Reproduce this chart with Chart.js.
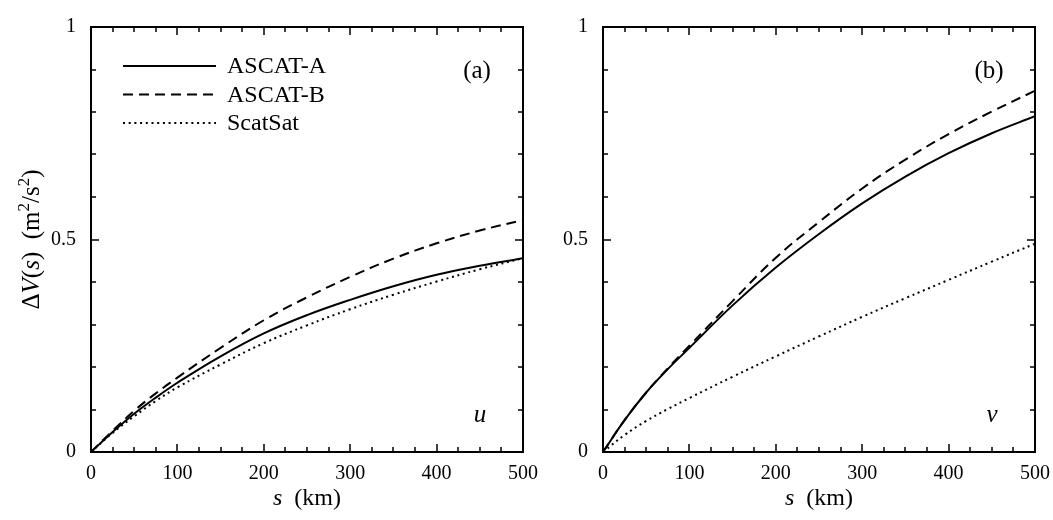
<!DOCTYPE html>
<html>
<head>
<meta charset="utf-8">
<script src="https://cdn.jsdelivr.net/npm/chart.js@4.4.1/dist/chart.umd.min.js"></script>
<style>
    body { margin: 0; background: #fff; }
    #wrap { position: relative; width: 1053px; height: 520px; overflow: hidden; }
    canvas { position: absolute; top: 0; }
</style>
</head>
<body>
<div id="wrap">
    <canvas id="chartU" width="560" height="520" style="left:0px"></canvas>
    <canvas id="chartV" width="540" height="520" style="left:560px"></canvas>
</div>
<script>
// separation s (km)
const sepKm = [0, 25, 50, 75, 100, 150, 200, 250, 300, 350, 400, 450, 500];
const seriesNames = ['ASCAT-A', 'ASCAT-B', 'ScatSat'];

// u component
const uAscatA = [0, 0.047, 0.090, 0.128, 0.163, 0.225, 0.279, 0.322, 0.358, 0.390, 0.417, 0.438, 0.456];
const uAscatB = [0, 0.050, 0.097, 0.138, 0.175, 0.245, 0.310, 0.364, 0.412, 0.455, 0.491, 0.521, 0.546];
const uScatSat = [0, 0.045, 0.084, 0.120, 0.152, 0.206, 0.256, 0.298, 0.336, 0.370, 0.401, 0.430, 0.456];

// v component
const vAscatA = [0, 0.075, 0.140, 0.195, 0.245, 0.345, 0.434, 0.513, 0.585, 0.648, 0.703, 0.750, 0.790];
const vAscatB = [0, 0.075, 0.140, 0.197, 0.250, 0.355, 0.457, 0.541, 0.620, 0.688, 0.748, 0.801, 0.850];
const vScatSat = [0, 0.040, 0.073, 0.101, 0.127, 0.177, 0.225, 0.272, 0.318, 0.362, 0.405, 0.448, 0.490];

const xTickStep = 100, xMinorStep = 25;
const yTickStep = 0.5, yMinorStep = 0.1;

const SERIF = '"Liberation Serif", "DejaVu Serif", serif';
const lineStyles = [[], [10, 6], [2, 3.7]];

function font(size, italic) {
    return (italic ? 'italic ' : '') + size + 'px ' + SERIF;
}

// draws a list of text runs (plain / italic / superscript) centred on x,y
function drawRuns(ctx, runs, x, y, size) {
    let total = 0;
    runs.forEach(r => {
        ctx.font = font(r.sup ? size * 0.68 : size, r.it);
        r.w = ctx.measureText(r.t).width;
        total += r.w;
    });
    let cx = x - total / 2;
    ctx.textAlign = 'left';
    ctx.textBaseline = 'alphabetic';
    runs.forEach(r => {
        ctx.font = font(r.sup ? size * 0.68 : size, r.it);
        ctx.fillText(r.t, cx, r.sup ? y - size * 0.42 : y);
        cx += r.w;
    });
}

const frameTicks = {
    id: 'frameTicks',
    afterDatasetsDraw(chart) {
        const {ctx, chartArea: a, scales: {x, y}} = chart;
        ctx.save();
        ctx.strokeStyle = '#000';
        ctx.lineWidth = 2;
        ctx.strokeRect(a.left, a.top, a.right - a.left, a.bottom - a.top);
        ctx.lineWidth = 1.5;
        ctx.beginPath();
        for (let s = 0; s <= x.max + 0.01; s += xMinorStep) {
            const px = Math.round(x.getPixelForValue(s));
            const len = Math.abs(s % xTickStep) < 0.01 ? 8 : 5;
            ctx.moveTo(px, a.bottom); ctx.lineTo(px, a.bottom - len);
            ctx.moveTo(px, a.top); ctx.lineTo(px, a.top + len);
        }
        for (let i = 0; i * yMinorStep <= y.max + 1e-6; i++) {
            const v = i * yMinorStep;
            const py = Math.round(y.getPixelForValue(v));
            const len = Math.abs(v / yTickStep - Math.round(v / yTickStep)) < 1e-6 ? 8 : 5;
            ctx.moveTo(a.left, py); ctx.lineTo(a.left + len, py);
            ctx.moveTo(a.right, py); ctx.lineTo(a.right - len, py);
        }
        ctx.stroke();
        ctx.restore();
    }
};

const panelText = {
    id: 'panelText',
    afterDraw(chart, args, opts) {
        const {ctx, chartArea: a} = chart;
        ctx.save();
        ctx.fillStyle = '#000';
        // panel tag and component
        ctx.font = font(25, false);
        ctx.textAlign = 'center';
        ctx.textBaseline = 'middle';
        ctx.fillText(opts.tag, a.right - 46, a.top + 44);
        ctx.font = font(25, true);
        ctx.fillText(opts.comp, a.right - 43, a.bottom - 37);
        // x axis title
        drawRuns(ctx, [{t: 's', it: true}, {t: '  (km)'}], (a.left + a.right) / 2, 505, 24);
        if (opts.yTitle) {
            ctx.save();
            ctx.translate(39, (a.top + a.bottom) / 2);
            ctx.rotate(-Math.PI / 2);
            drawRuns(ctx, [{t: 'Δ'}, {t: 'V', it: true}, {t: '('}, {t: 's', it: true}, {t: ')  (m'},
                {t: '2', sup: true}, {t: '/s'}, {t: '2', sup: true}, {t: ')'}], 0, 0, 25);
            ctx.restore();
        }
        if (opts.legend) {
            chart.data.datasets.forEach((ds, i) => {
                const ly = a.top + 39 + i * 28.5;
                ctx.beginPath();
                ctx.setLineDash(ds.borderDash);
                ctx.lineWidth = 2;
                ctx.strokeStyle = '#000';
                ctx.moveTo(a.left + 32, ly);
                ctx.lineTo(a.left + 125, ly);
                ctx.stroke();
                ctx.setLineDash([]);
                ctx.font = font(24, false);
                ctx.textAlign = 'left';
                ctx.textBaseline = 'middle';
                ctx.fillText(ds.label, a.left + 136, ly + 1);
            });
        }
        ctx.restore();
    }
};

function makePanel(id, values, cfg) {
    const datasets = values.map((vals, i) => ({
        label: seriesNames[i],
        data: vals.map((v, k) => ({x: sepKm[k], y: v})),
        borderColor: '#000',
        borderWidth: 2,
        borderDash: lineStyles[i],
        pointRadius: 0,
        tension: 0.4,
        fill: false
    }));
    return new Chart(document.getElementById(id), {
        type: 'line',
        data: {datasets: datasets},
        plugins: [frameTicks, panelText],
        options: {
            responsive: false,
            animation: false,
            devicePixelRatio: 1,
            layout: {padding: {top: 21, right: cfg.padRight, bottom: 0, left: 0}},
            plugins: {
                legend: {display: false},
                tooltip: {enabled: false},
                panelText: {tag: cfg.tag, comp: cfg.comp, legend: cfg.legend, yTitle: cfg.yTitle}
            },
            scales: {
                x: {
                    type: 'linear',
                    min: 0, max: 500,
                    grid: {display: false, drawTicks: false},
                    border: {display: false},
                    ticks: {stepSize: xTickStep, padding: 10, color: '#000', font: {family: SERIF, size: 20}},
                    afterFit: s => { s.height = 68; }
                },
                y: {
                    min: 0, max: 1,
                    grid: {display: false, drawTicks: false},
                    border: {display: false},
                    ticks: {
                        stepSize: yTickStep, padding: 15, color: '#000', font: {family: SERIF, size: 20},
                        callback: v => String(v)
                    },
                    afterFit: s => { s.width = cfg.axisWidth; }
                }
            }
        }
    });
}

makePanel('chartU', [uAscatA, uAscatB, uScatSat], {axisWidth: 91, padRight: 37, tag: '(a)', comp: 'u', legend: true, yTitle: true});
makePanel('chartV', [vAscatA, vAscatB, vScatSat], {axisWidth: 43, padRight: 65, tag: '(b)', comp: 'v', legend: false, yTitle: false});
</script>
</body>
</html>
